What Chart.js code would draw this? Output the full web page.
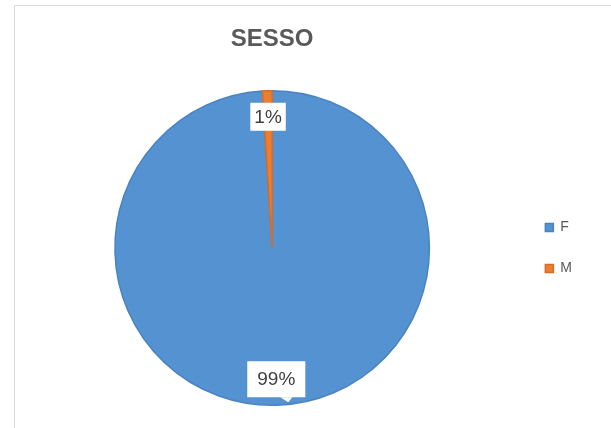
<!DOCTYPE html>
<html>
<head>
<meta charset="utf-8">
<script src="https://cdn.jsdelivr.net/npm/chart.js@4/dist/chart.umd.min.js"></script>
<style>
html,body{margin:0;padding:0;background:#fff;}
#wrap{width:611px;height:428px;position:relative;}
</style>
</head>
<body>
<div id="wrap"><canvas id="c" width="611" height="428"></canvas></div>
<script>
const categories = ['F', 'M'];
const values = [99, 1];
const sliceColors = ['#5592d2', '#ed7d31'];
const sliceBorders = ['#4a84bf', '#d56e28'];
const chartTitle = 'SESSO';

const framePlugin = {
  id: 'frame',
  beforeDraw(chart) {
    const ctx = chart.ctx;
    ctx.save();
    ctx.fillStyle = '#ffffff';
    ctx.fillRect(0, 0, chart.width, chart.height);
    ctx.strokeStyle = '#d9d9d9';
    ctx.lineWidth = 1;
    ctx.beginPath();
    ctx.moveTo(14.5, chart.height);
    ctx.lineTo(14.5, 5.5);
    ctx.lineTo(chart.width, 5.5);
    ctx.stroke();
    ctx.restore();
  }
};

const labelPlugin = {
  id: 'calloutLabels',
  afterDatasetsDraw(chart) {
    const ctx = chart.ctx;
    const meta = chart.getDatasetMeta(0);
    const data = chart.data.datasets[0].data;
    const total = data.reduce((a, b) => a + b, 0);
    ctx.save();
    ctx.font = '19px "Liberation Sans", Arial, sans-serif';
    ctx.textAlign = 'center';
    ctx.textBaseline = 'middle';
    meta.data.forEach((arc, i) => {
      const p = arc.getProps(['x', 'y', 'startAngle', 'endAngle', 'outerRadius'], true);
      const mid = (p.startAngle + p.endAngle) / 2;
      const r = p.outerRadius * 0.835;
      const x = p.x + Math.cos(mid) * r;
      const y = p.y + Math.sin(mid) * r;
      const txt = Math.round(data[i] / total * 100) + '%';
      const w = ctx.measureText(txt).width;
      const bw = w + (i === 0 ? 20 : 8);
      const bh = i === 0 ? 36 : 28;
      ctx.fillStyle = '#ffffff';
      ctx.fillRect(x - bw / 2, y - bh / 2, bw, bh);
      if (i === 0) {
        ctx.beginPath();
        ctx.moveTo(x + 4, y + bh / 2);
        ctx.lineTo(x + 12, y + bh / 2 + 5);
        ctx.lineTo(x + 16, y + bh / 2);
        ctx.closePath();
        ctx.fill();
      }
      ctx.fillStyle = '#404040';
      ctx.fillText(txt, x, y + 1);
    });
    ctx.restore();
  }
};

new Chart(document.getElementById('c'), {
  type: 'pie',
  data: {
    labels: categories,
    datasets: [{
      data: values,
      backgroundColor: sliceColors,
      borderColor: sliceBorders,
      borderWidth: 1.5
    }]
  },
  options: {
    responsive: false,
    animation: false,
    layout: { padding: { left: 26, right: 29, top: 10, bottom: 22 } },
    plugins: {
      title: {
        display: true,
        text: chartTitle,
        fullSize: false,
        color: '#595959',
        font: { family: '"Liberation Sans", Arial, sans-serif', size: 24, weight: 'bold' },
        padding: { top: 14.6, bottom: 36.6 }
      },
      legend: {
        position: 'right',
        fullSize: false,
        labels: {
          boxWidth: 8,
          boxHeight: 8,
          padding: 27,
          color: '#595959',
          font: { family: '"Liberation Sans", Arial, sans-serif', size: 14 }
        }
      },
      tooltip: { enabled: false }
    }
  },
  plugins: [framePlugin, labelPlugin]
});
</script>
</body>
</html>
